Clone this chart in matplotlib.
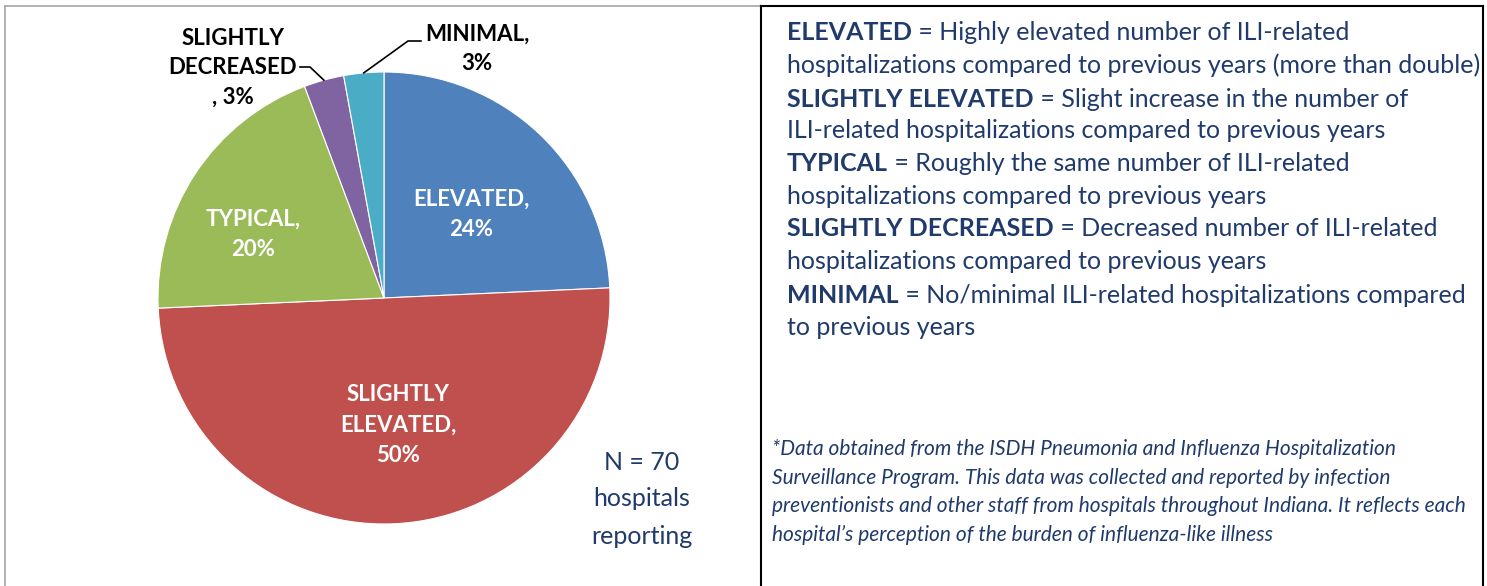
import numpy as np
import matplotlib.pyplot as plt
from matplotlib.lines import Line2D

# hospital counts per category (N = 70)
categories = ['ELEVATED', 'SLIGHTLY ELEVATED', 'TYPICAL', 'SLIGHTLY DECREASED', 'MINIMAL']
counts = [17, 35, 14, 2, 2]
colors = ['#4F81BD', '#C0504D', '#9BBB59', '#8064A2', '#4BACC6']

definitions = [
    ('ELEVATED', ' = Highly elevated number of ILI-related'),
    ('', 'hospitalizations compared to previous years (more than double)'),
    ('SLIGHTLY ELEVATED', ' = Slight increase in the number of'),
    ('', 'ILI-related hospitalizations compared to previous years'),
    ('TYPICAL', ' = Roughly the same number of ILI-related'),
    ('', 'hospitalizations compared to previous years'),
    ('SLIGHTLY DECREASED', ' = Decreased number of ILI-related'),
    ('', 'hospitalizations compared to previous years'),
    ('MINIMAL', ' = No/minimal ILI-related hospitalizations compared'),
    ('', 'to previous years'),
]
footnote = [
    '*Data obtained from the ISDH Pneumonia and Influenza Hospitalization',
    'Surveillance Program. This data was collected and reported by infection',
    'preventionists and other staff from hospitals throughout Indiana. It reflects each',
    'hospital\u2019s perception of the burden of influenza-like illness',
]

plt.rcParams['font.family'] = ['Lato', 'DejaVu Sans']
W, H = 1487, 586
navy = '#1F3A6B'

fig = plt.figure(figsize=(W / 100, H / 100), dpi=100)

def fx(px):
    return px / W

def fy(py):
    return 1 - py / H

# pie axes: center (384, 298), radius 226 px
ax = fig.add_axes([fx(158), fy(524), 452 / W, 452 / H])
wedges, _ = ax.pie(counts, colors=colors, startangle=90, counterclock=False,
                   radius=1, wedgeprops=dict(linewidth=0.8, edgecolor='white'))
ax.set_xlim(-1, 1)
ax.set_ylim(-1, 1)
ax.set_aspect('equal')
ax.axis('off')

pct = [round(100 * c / sum(counts)) for c in counts]

def d(px, py):
    return ((px - 384) / 226, (298 - py) / 226)

inside = {0: (471, 214, 'ELEVATED,\n{}%'),
          1: (398, 425, 'SLIGHTLY\nELEVATED,\n{}%'),
          2: (253, 234, 'TYPICAL,\n{}%')}
for i, (px, py, fmt) in inside.items():
    ax.text(*d(px, py), fmt.format(pct[i]), ha='center', va='center',
            color='white', fontsize=16, fontweight='bold', linespacing=1.55)

# outside labels with leader lines
ax.text(*d(233, 68), 'SLIGHTLY\nDECREASED\n, {}%'.format(pct[3]), ha='center',
        va='center', color='black', fontsize=16, fontweight='bold', linespacing=1.5)
ax.text(*d(477, 49), 'MINIMAL,\n{}%'.format(pct[4]), ha='center', va='center',
        color='black', fontsize=16, fontweight='bold', linespacing=1.5)

for i, elbow, end in [(3, (310, 67), (300, 67)), (4, (408, 41), (421, 41))]:
    w = wedges[i]
    mid = np.deg2rad((w.theta1 + w.theta2) / 2)
    x0, y0 = np.cos(mid), np.sin(mid)
    ex, ey = d(*elbow)
    tx, ty = d(*end)
    ax.plot([x0, ex, tx], [y0, ey, ty], color='black', lw=1.2, clip_on=False)

# N label
for py, s in [(462, 'N = 70'), (498, 'hospitals'), (536, 'reporting')]:
    fig.text(fx(642), fy(py), s, ha='center', va='center', color=navy, fontsize=18)

# definitions on the right
fs = 18
line_y = [34, 67, 101, 132, 165, 198, 230, 263, 297, 329]
for (bold, rest), py in zip(definitions, line_y):
    if bold:
        t1 = fig.text(fx(787), fy(py + 6), bold, ha='left', va='baseline',
                      color=navy, fontsize=fs, fontweight='bold')
        ax.annotate(rest, xy=(1, 0), xycoords=t1, ha='left', va='bottom',
                    color=navy, fontsize=fs)
    else:
        fig.text(fx(787), fy(py + 6), rest, ha='left', va='baseline',
                 color=navy, fontsize=fs)

for s, py in zip(footnote, [449, 478, 506, 535]):
    fig.text(fx(772), fy(py), s, ha='left', va='center', color=navy,
             fontsize=15, style='italic')

# panel borders
gray = '#A6A6A6'
fig.add_artist(Line2D([fx(5), fx(761)], [fy(6), fy(6)], color=gray, lw=1.2))
fig.add_artist(Line2D([fx(5), fx(5)], [fy(6), 0], color=gray, lw=1.2))
fig.add_artist(Line2D([fx(761), fx(1483)], [fy(6), fy(6)], color='black', lw=1.5))
fig.add_artist(Line2D([fx(761), fx(761)], [fy(6), 0], color='black', lw=1.5))
fig.add_artist(Line2D([fx(1483), fx(1483)], [fy(6), 0], color='black', lw=1.5))

fig.savefig('out.png', dpi=100)
